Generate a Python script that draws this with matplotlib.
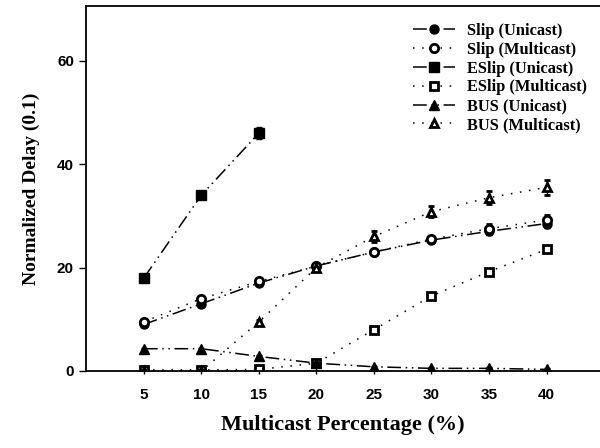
import matplotlib
matplotlib.use("Agg")
import matplotlib.pyplot as plt
import numpy as np

# multicast percentage (%)
x_pct = [5, 10, 15, 20, 25, 30, 35, 40]
x_eslip_uni = [5, 10, 15]

slip_uni = [9.0, 13.0, 17.0, 20.3, 23.0, 25.3, 27.0, 28.5]
slip_multi = [9.5, 14.0, 17.3, 20.3, 23.0, 25.5, 27.5, 29.2]
eslip_uni = [18.0, 34.0, 46.0]
eslip_multi = [0.2, 0.2, 0.3, 1.5, 8.0, 14.5, 19.2, 23.5]
bus_uni = [4.3, 4.3, 2.8, 1.5, 0.8, 0.5, 0.5, 0.3]
bus_multi = [0.0, 0.0, 9.5, 20.0, 26.0, 30.8, 33.5, 35.5]

slip_uni_err = [0.4, 0.6, 0.5, 0.4, 0.5, 0.5, 0.8, 0.8]
slip_multi_err = [0.4, 0.5, 0.5, 0.4, 0.5, 0.6, 0.9, 1.0]
eslip_uni_err = [0.4, 0.5, 1.2]
eslip_multi_err = [0.2, 0.2, 0.2, 0.2, 0.4, 0.4, 0.5, 0.5]
bus_uni_err = [0.2, 0.2, 0.2, 0.2, 0.2, 0.2, 0.2, 0.2]
bus_multi_err = [0.2, 0.2, 0.4, 0.5, 1.1, 1.1, 1.3, 1.4]

x_ticks = [5, 10, 15, 20, 25, 30, 35, 40]
y_ticks = [0, 20, 40, 60]

UNI = (0, (9, 3, 1, 3, 1, 3))
MULTI = (0, (1, 5))

fig = plt.figure(figsize=(6.0, 4.48), dpi=100)
ax = fig.add_axes([0.144, 0.172, 0.856, 0.815])

series = [
    (x_pct, slip_uni, slip_uni_err, "o", True, UNI, "Slip (Unicast)"),
    (x_pct, slip_multi, slip_multi_err, "o", False, MULTI, "Slip (Multicast)"),
    (x_eslip_uni, eslip_uni, eslip_uni_err, "s", True, UNI, "ESlip (Unicast)"),
    (x_pct, eslip_multi, eslip_multi_err, "s", False, MULTI, "ESlip (Multicast)"),
    (x_pct, bus_uni, bus_uni_err, "^", True, UNI, "BUS (Unicast)"),
    (x_pct, bus_multi, bus_multi_err, "^", False, MULTI, "BUS (Multicast)"),
]

for xs, ys, err, mk, filled, ls, label in series:
    ax.errorbar(
        xs, ys, yerr=err, fmt=mk, linestyle=ls, color="black", linewidth=1.1,
        markersize=6.5 if filled else 6,
        markerfacecolor="black" if filled else "white",
        markeredgecolor="black", markeredgewidth=1.0 if filled else 2.0,
        ecolor="black", elinewidth=1.0, capsize=2.5, capthick=1.0, label=label,
    )

ax.set_xlim(0, 44.65)
ax.set_ylim(0, 70.6)
ax.set_xticks(x_ticks)
ax.set_yticks(y_ticks)
ax.tick_params(axis="y", direction="out", length=5, width=1, pad=4)
ax.tick_params(axis="x", direction="inout", length=5, width=1, pad=10)
for lab in ax.get_xticklabels() + ax.get_yticklabels():
    lab.set_fontfamily("Liberation Sans")
    lab.set_fontweight("bold")
    lab.set_fontsize(11)

ax.spines["right"].set_visible(False)
for side in ["left", "top", "bottom"]:
    ax.spines[side].set_linewidth(1.3)

ax.set_xlabel("Multicast Percentage (%)", fontfamily="Liberation Serif",
              fontweight="bold", fontsize=16, labelpad=9)
ax.set_ylabel("Normalized Delay (0.1)", fontfamily="Liberation Serif",
              fontweight="bold", fontsize=14, labelpad=12)

handles, labels = ax.get_legend_handles_labels()
handles = [h[0] for h in handles]
ax.legend(handles, labels, loc="upper right", bbox_to_anchor=(1.003, 0.993),
          frameon=False, handlelength=2.6, handletextpad=0.7, labelspacing=0.17,
          prop={"family": "Liberation Serif", "weight": "bold", "size": 11.8})

fig.savefig("out.png", dpi=100)
